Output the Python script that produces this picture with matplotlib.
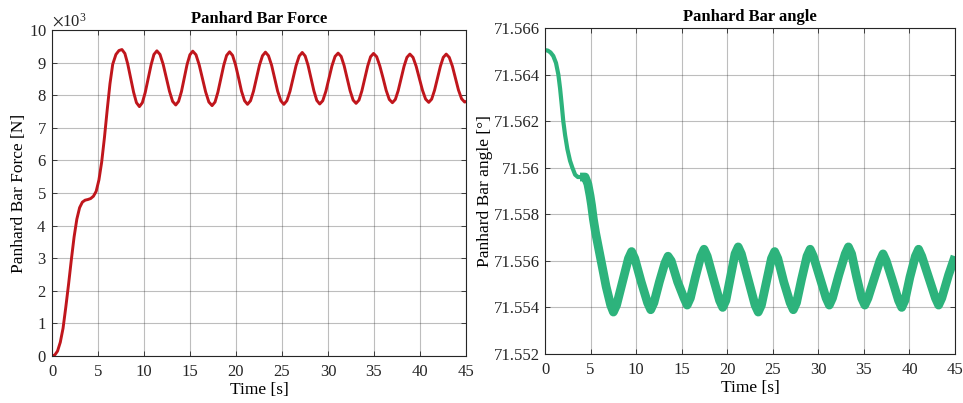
import matplotlib.pyplot as plt
import matplotlib.ticker as mticker
import numpy as np

plt.rcParams['font.family'] = ['Liberation Serif', 'DejaVu Serif']
plt.rcParams['mathtext.fontset'] = 'stix'

# panhard bar force [kN] vs time [s]
t_force = [0, 0.3, 0.6, 0.9, 1.2, 1.5, 1.8, 2.1, 2.4, 2.7, 3.0, 3.3, 3.6, 3.9, 4.2, 4.5, 4.8,
           5.1, 5.4, 5.7, 6.0, 6.3, 6.6, 6.95, 7.28, 7.6,
           7.92, 8.23, 8.55, 8.87, 9.18, 9.5,
           9.82, 10.13, 10.45, 10.77, 11.08, 11.4,
           11.74, 12.08, 12.43, 12.77, 13.11, 13.45,
           13.76, 14.07, 14.38, 14.68, 14.99, 15.3,
           15.65, 16.0, 16.35, 16.7, 17.05, 17.4,
           17.72, 18.03, 18.35, 18.67, 18.98, 19.3,
           19.63, 19.95, 20.28, 20.6, 20.93, 21.25,
           21.58, 21.9, 22.23, 22.55, 22.88, 23.2,
           23.53, 23.87, 24.2, 24.53, 24.87, 25.2,
           25.53, 25.87, 26.2, 26.53, 26.87, 27.2,
           27.52, 27.83, 28.15, 28.47, 28.78, 29.1,
           29.43, 29.77, 30.1, 30.43, 30.77, 31.1,
           31.43, 31.75, 32.08, 32.4, 32.73, 33.05,
           33.37, 33.68, 34.0, 34.32, 34.63, 34.95,
           35.29, 35.63, 35.98, 36.32, 36.66, 37.0,
           37.32, 37.63, 37.95, 38.27, 38.58, 38.9,
           39.24, 39.58, 39.93, 40.27, 40.61, 40.95,
           41.27, 41.58, 41.9, 42.22, 42.53, 42.85,
           43.18, 43.52, 43.85, 44.18, 44.52, 44.85, 45.0]
force_kN = [0.0, 0.03, 0.15, 0.42, 0.85, 1.5, 2.2, 2.95, 3.65, 4.2, 4.55, 4.72, 4.78, 4.8, 4.83, 4.9, 5.05,
            5.4, 5.95, 6.7, 7.55, 8.35, 8.95, 9.25, 9.37, 9.40,
            9.28, 8.96, 8.53, 8.09, 7.77, 7.65,
            7.77, 8.08, 8.51, 8.93, 9.25, 9.36,
            9.25, 8.95, 8.53, 8.12, 7.81, 7.70,
            7.81, 8.11, 8.53, 8.94, 9.24, 9.35,
            9.24, 8.93, 8.52, 8.10, 7.79, 7.68,
            7.79, 8.09, 8.51, 8.92, 9.22, 9.33,
            9.22, 8.93, 8.53, 8.12, 7.83, 7.72,
            7.83, 8.12, 8.52, 8.92, 9.21, 9.32,
            9.21, 8.92, 8.52, 8.12, 7.83, 7.72,
            7.83, 8.12, 8.52, 8.91, 9.20, 9.31,
            9.20, 8.92, 8.52, 8.13, 7.84, 7.73,
            7.83, 8.12, 8.51, 8.90, 9.19, 9.29,
            9.19, 8.91, 8.52, 8.14, 7.85, 7.75,
            7.85, 8.13, 8.52, 8.90, 9.18, 9.28,
            9.18, 8.90, 8.53, 8.15, 7.87, 7.77,
            7.87, 8.14, 8.52, 8.89, 9.16, 9.26,
            9.16, 8.89, 8.52, 8.15, 7.88, 7.78,
            7.88, 8.15, 8.52, 8.89, 9.16, 9.26,
            9.16, 8.89, 8.53, 8.16, 7.89, 7.79, 7.80]

# panhard bar angle [deg] vs time [s]
t_angle = [0, 0.3, 0.6, 0.9, 1.2, 1.46, 1.65, 1.83, 2.0, 2.2, 2.45, 2.74, 3.0, 3.3, 3.6, 3.84, 4.1,
           4.4, 4.7, 4.94, 5.1, 5.3, 5.55, 5.85, 6.1, 6.4, 6.7, 6.95, 7.2, 7.5,
           7.85, 8.5, 9.15, 9.5,
           9.85, 10.55, 11.25, 11.6,
           11.95, 12.55, 13.15, 13.5,
           13.85, 14.55, 15.25, 15.6,
           15.95, 16.5, 17.1, 17.45,
           17.8, 18.5, 19.15, 19.5,
           19.85, 20.35, 20.85, 21.2,
           21.55, 22.3, 23.05, 23.4,
           23.75, 24.3, 24.85, 25.2,
           25.55, 26.2, 26.9, 27.25,
           27.6, 28.15, 28.75, 29.1,
           29.45, 30.15, 30.85, 31.2,
           31.55, 32.25, 32.95, 33.3,
           33.65, 34.2, 34.75, 35.1,
           35.45, 36.1, 36.75, 37.1,
           37.45, 38.1, 38.8, 39.15,
           39.5, 40.05, 40.65, 41.0,
           41.35, 42.1, 42.85, 43.2,
           43.55, 44.3, 45.0]
angle = [71.56505, 71.56503, 71.56495, 71.5648, 71.5645, 71.5640, 71.5634, 71.5627, 71.5620,
         71.5614, 71.5608, 71.5603, 71.5600, 71.5597, 71.5596, 71.5596, 71.5596,
         71.5596, 71.5593, 71.5588, 71.5584, 71.5578, 71.5572, 71.5566, 71.5561, 71.5555,
         71.5549, 71.5545, 71.5541, 71.5538,
         71.5541, 71.5551, 71.5561, 71.5564,
         71.5561, 71.5551, 71.5542, 71.5539,
         71.5542, 71.5551, 71.5559, 71.5562,
         71.5560, 71.5551, 71.5544, 71.5541,
         71.5544, 71.5553, 71.5562, 71.5565,
         71.5562, 71.5552, 71.5543, 71.5540,
         71.5543, 71.5553, 71.5563, 71.5566,
         71.5563, 71.5552, 71.5541, 71.5538,
         71.5541, 71.5551, 71.5561, 71.5564,
         71.5561, 71.5551, 71.5542, 71.5539,
         71.5542, 71.5552, 71.5562, 71.5565,
         71.5562, 71.5553, 71.5544, 71.5541,
         71.5544, 71.5554, 71.5563, 71.5566,
         71.5563, 71.5553, 71.5544, 71.5541,
         71.5544, 71.5552, 71.5560, 71.5563,
         71.5560, 71.5552, 71.5543, 71.5540,
         71.5543, 71.5553, 71.5562, 71.5565,
         71.5562, 71.5553, 71.5544, 71.5541,
         71.5544, 71.5554, 71.5562]

RED = '#C0161C'
GREEN = '#2DB37C'


def style_axes(ax):
    ax.grid(True, color='#262626', alpha=0.3, linewidth=0.8)
    ax.set_axisbelow(True)
    for s in ax.spines.values():
        s.set_color('#262626')
        s.set_linewidth(0.8)
    ax.tick_params(direction='in', length=3.5, width=0.6, top=True, right=True,
                   labelsize=12, colors='#262626', pad=4)
    ax.tick_params(axis='x', pad=6)


fig = plt.figure(figsize=(9.63, 4.03), dpi=100)

ax1 = fig.add_axes([0.054, 0.1166, 0.4299, 0.8090])
ax1.plot(np.array(t_force), np.array(force_kN) * 1e3, color=RED, linewidth=2.1)
ax1.set_xlim(0, 45)
ax1.set_ylim(0, 10000)
ax1.set_xticks(np.arange(0, 46, 5))
ax1.set_yticks(np.arange(0, 10001, 1000))
fmt = mticker.ScalarFormatter(useMathText=True)
fmt.set_powerlimits((3, 3))
ax1.yaxis.set_major_formatter(fmt)
ax1.yaxis.get_offset_text().set_fontsize(12)
ax1.set_title('Panhard Bar Force', fontsize=12, fontweight='bold', pad=5)
ax1.set_xlabel('Time [s]', fontsize=12.5, labelpad=1)
ax1.set_ylabel('Panhard Bar Force [N]', fontsize=12.5, labelpad=1)
style_axes(ax1)

ax2 = fig.add_axes([0.566, 0.1216, 0.4257, 0.8089])
split = t_angle.index(3.84) + 1
ax2.plot(t_angle[:split], angle[:split], color=GREEN, linewidth=3.0,
         solid_capstyle='round')
ax2.plot(t_angle[split - 1:], angle[split - 1:], color=GREEN, linewidth=6.3,
         solid_joinstyle='round', solid_capstyle='butt')
ax2.set_xlim(0, 45)
ax2.set_ylim(71.552, 71.566)
ax2.set_xticks(np.arange(0, 46, 5))
ax2.set_yticks(np.linspace(71.552, 71.566, 8))
ax2.yaxis.set_major_formatter(mticker.FuncFormatter(lambda v, p: '%g' % round(v, 3)))
ax2.set_title('Panhard Bar angle', fontsize=12, fontweight='bold', pad=5)
ax2.set_xlabel('Time [s]', fontsize=12.5, labelpad=1)
ax2.set_ylabel('Panhard Bar angle [°]', fontsize=12.5, labelpad=0)
style_axes(ax2)

plt.savefig('out.png', dpi=100)
